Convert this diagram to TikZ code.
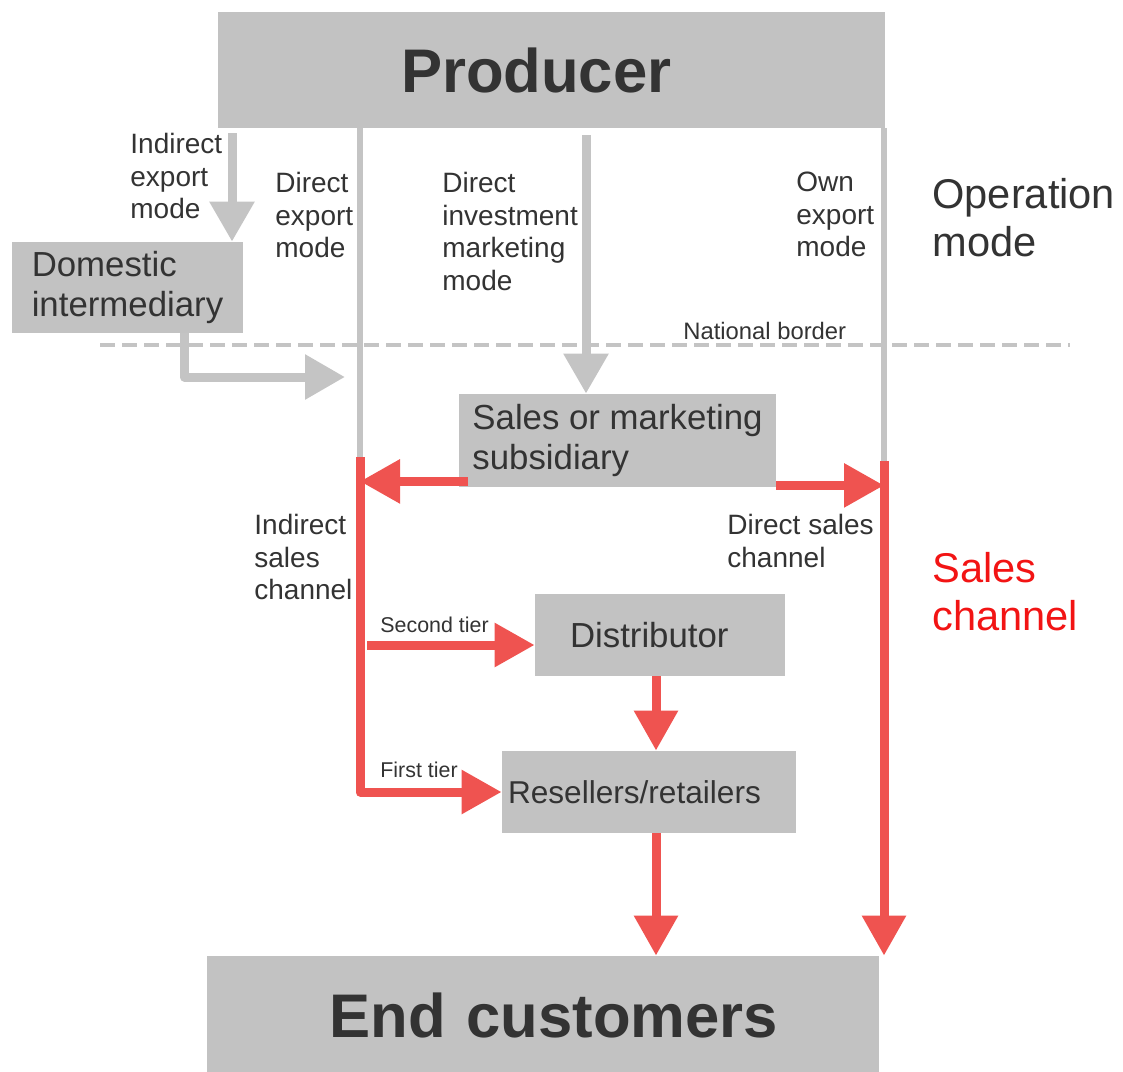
\documentclass[tikz,border=0pt]{standalone}
\usepackage{fontspec}
\setmainfont{Liberation Sans}
\usetikzlibrary{arrows.meta}
\definecolor{boxgray}{RGB}{194,194,194}
\definecolor{linegray}{RGB}{196,196,196}
\definecolor{chanred}{RGB}{239,83,80}
\definecolor{txtgray}{RGB}{51,51,51}
\definecolor{labelred}{RGB}{242,20,20}
\newcommand{\bigfont}{\fontsize{30.8}{36}\selectfont\bfseries}
\newcommand{\boxfont}{\fontsize{17.4}{20}\selectfont}
\newcommand{\modefont}{\fontsize{20.8}{24}\selectfont}
\tikzset{
 box/.style={fill=boxgray, text=txtgray, inner ysep=0pt},
 lbl/.style={text=txtgray, inner sep=0pt, anchor=north west, align=left,
  font=\fontsize{14}{16.25}\selectfont},
 tierlbl/.style={lbl, font=\fontsize{10.7}{12}\selectfont},
 grayline/.style={draw=linegray, line width=3pt},
 grayarr/.style={draw=linegray, line width=4.5pt, line join=round,
  -{Triangle[length=20pt,width=21.5pt]}},
 redarr/.style={draw=chanred, line width=4.5pt, line join=round,
  -{Triangle[length=20pt,width=21pt]}},
 border/.style={draw=linegray, line width=2pt, dash pattern=on 7.5pt off 3.5pt},
}

\begin{document}
\begin{tikzpicture}[x=0.5pt, y=-0.5pt]
    \useasboundingbox (0,0) rectangle (1123,1071);
    \node[box, minimum height=58pt, inner xsep=91.5pt, text width=150.5pt,
        align=left, font=\bigfont] (prod) at (551.5,70) {Producer};
    \node[box, minimum height=59.5pt, inner xsep=50.5pt, text width=235pt,
        align=right, font=\bigfont] (cust) at (543,1015.5) {End customers};
    \node[box, minimum width=115.5pt, minimum height=45.5pt, align=left,
        font=\boxfont] (dom) at (127.5,287.5) {Domestic\\intermediary};
    \node[box, minimum width=158.5pt, minimum height=46.5pt, align=left,
        font=\boxfont] (sub) at (617.5,440.5) {Sales or marketing\\subsidiary};
    \node[box, minimum height=41pt, inner xsep=17.5pt, text width=90pt,
        align=left, font=\boxfont] (dist) at (660,635) {Distributor};
    \node[box, minimum height=41pt, inner xsep=3pt, text width=141pt,
        align=left, font=\fontsize{15.8}{18}\selectfont] (res) at (649,792) {Resellers/retailers};

    \node[lbl] (ieLbl) at (130,133) {Indirect\\export\\mode};
    \node[lbl] (deLbl) at (275,172) {Direct\\export\\mode};
    \node[lbl] (dimLbl) at (442,172) {Direct\\investment\\marketing\\mode};
    \node[lbl] (oeLbl) at (796,172) {Own\\export\\mode};
    \node[lbl, font=\modefont] (opLbl) at (932,178) {Operation\\mode};
    \node[lbl] (iscLbl) at (254,514) {Indirect\\sales\\channel};
    \node[lbl] (dscLbl) at (727,514) {Direct sales\\channel};
    \node[lbl, font=\modefont, text=labelred] (scLbl) at (932,552) {Sales\\channel};
    \node[lbl, font=\fontsize{11.9}{14}\selectfont] (natLbl) at (683,322) {National border};
    \node[tierlbl] (t2Lbl) at (380,617) {Second tier};
    \node[tierlbl] (t1Lbl) at (380,762) {First tier};

    \coordinate (deSplit) at (360,457);
    \coordinate (oeSplit) at (884,461);
    \coordinate (ieTop) at (232,133);
    \coordinate (dimTop) at (586,135);
    \coordinate (domIn) at (345,377);
    \coordinate (bordW) at (100,345);
    \coordinate (bordE) at (1070,345);
    \coordinate (tier2) at (367,645);
    \coordinate (midX) at (656,0);

    \draw[border] (bordW) -- (bordE);
    \draw[grayline] (prod.south -| deSplit) -- (deSplit);
    \draw[grayline] (prod.south -| oeSplit) -- (oeSplit);
    \draw[grayarr] (ieTop) -- (ieTop |- dom.north);
    \draw[grayarr] (dimTop) -- (dimTop |- sub.north);
    \draw[grayarr] ([xshift=-29.5pt]dom.south east) |- (domIn);

    \draw[redarr] (deSplit) |- (res.west);
    \draw[redarr] ([xshift=4.5pt,yshift=3pt]sub.south west) -- ([yshift=3pt]sub.south west -| deSplit);
    \draw[redarr] ([yshift=1pt]sub.south east) -- ([yshift=1pt]sub.south east -| oeSplit);
    \draw[redarr] (oeSplit) -- (oeSplit |- cust.north);
    \draw[redarr] (tier2) -- (tier2 -| dist.west);
    \draw[redarr] (dist.south -| midX) -- (res.north -| midX);
    \draw[redarr] (res.south -| midX) -- (cust.north -| midX);
\end{tikzpicture}
\end{document}
